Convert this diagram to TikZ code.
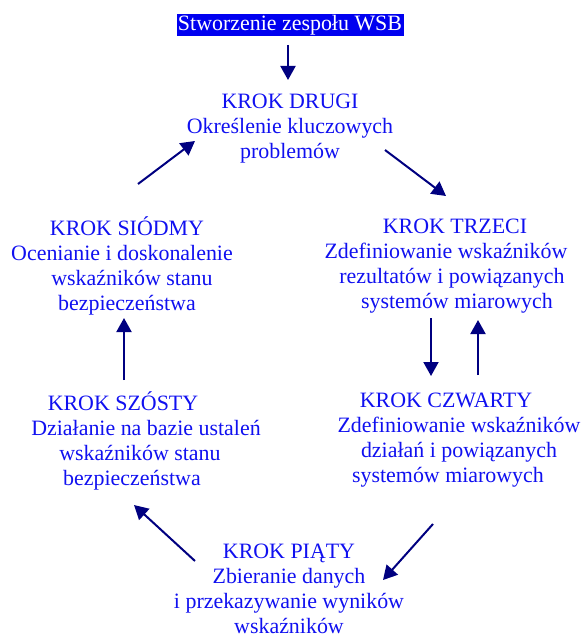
\documentclass[tikz,border=0pt]{standalone}
\usepackage{fontspec}
\setmainfont{Liberation Serif}
\usepackage{tikz}
\usetikzlibrary{arrows.meta,positioning}
\definecolor{kblue}{HTML}{1010F0}
\definecolor{kfill}{HTML}{0000F0}
\definecolor{knavy}{HTML}{000080}
\tikzset{
  krok/.style={align=center,inner sep=0pt,text=kblue,font=\fontsize{22}{25}\selectfont},
  start/.style={fill=kfill,text=white,inner xsep=1.5pt,inner ysep=0pt,minimum height=22bp,
                font=\fontsize{22}{25}\selectfont},
  flow/.style={-{Triangle[length=14bp,width=15bp]},line width=2bp,draw=knavy},
}
% shift one line of a centred node sideways
\newcommand{\mv}[2]{\kern#1bp#2\kern-#1bp}

\begin{document}
\begin{tikzpicture}[x=1bp,y=-1bp]
  \useasboundingbox (0,0) rectangle (584,635);

  % ---- steps ----
  \node[start] (top) at (290,25) {Stworzenie zespołu WSB};
  \node[krok] (k2) at (290,128.5) {KROK DRUGI\\Określenie kluczowych\\problemów};
  \node[krok] (k3) at (452,266) {\mv{3}{KROK TRZECI}\\\mv{-6}{Zdefiniowanie wskaźników}\\
    rezultatów i powiązanych\\\mv{5}{systemów miarowych}};
  \node[krok] (k4) at (453,440) {\mv{-7}{KROK CZWARTY}\\\mv{6}{Zdefiniowanie wskaźników}\\
    \mv{6}{działań i powiązanych}\\\mv{-5}{systemów miarowych}};
  \node[krok] (k5) at (289,588.5) {KROK PIĄTY\\Zbieranie danych\\i przekazywanie wyników\\wskaźników};
  \node[krok] (k6) at (135,441) {\mv{-12}{KROK SZÓSTY}\\\mv{11}{Działanie na bazie ustaleń}\\
    \mv{5}{wskaźników stanu}\\\mv{-3}{bezpieczeństwa}};
  \node[krok] (k7) at (127,266) {KROK SIÓDMY\\\mv{-5}{Ocenianie i doskonalenie}\\
    \mv{5}{wskaźników stanu}\\bezpieczeństwa};

  % ---- arrow ends ----
  \coordinate (a1s) at (288,45);  \coordinate (a1e) at (288,80);
  \coordinate (a2s) at (385,150); \coordinate (a2e) at (446,196);
  \coordinate (a3s) at (431,318); \coordinate (a3e) at (431,376);
  \coordinate (a4s) at (478,375); \coordinate (a4e) at (478,320);
  \coordinate (a5s) at (433,524); \coordinate (a5e) at (383,580);
  \coordinate (a6s) at (195,561); \coordinate (a6e) at (134,505);
  \coordinate (a7s) at (124,380); \coordinate (a7e) at (124,318);
  \coordinate (a8s) at (138,184); \coordinate (a8e) at (195,141);

  % ---- flows ----
  \draw[flow] (a1s) -- (a1e);
  \draw[flow] (a2s) -- (a2e);
  \draw[flow] (a3s) -- (a3e);
  \draw[flow] (a4s) -- (a4e);
  \draw[flow] (a5s) -- (a5e);
  \draw[flow] (a6s) -- (a6e);
  \draw[flow] (a7s) -- (a7e);
  \draw[flow] (a8s) -- (a8e);
\end{tikzpicture}
\end{document}
